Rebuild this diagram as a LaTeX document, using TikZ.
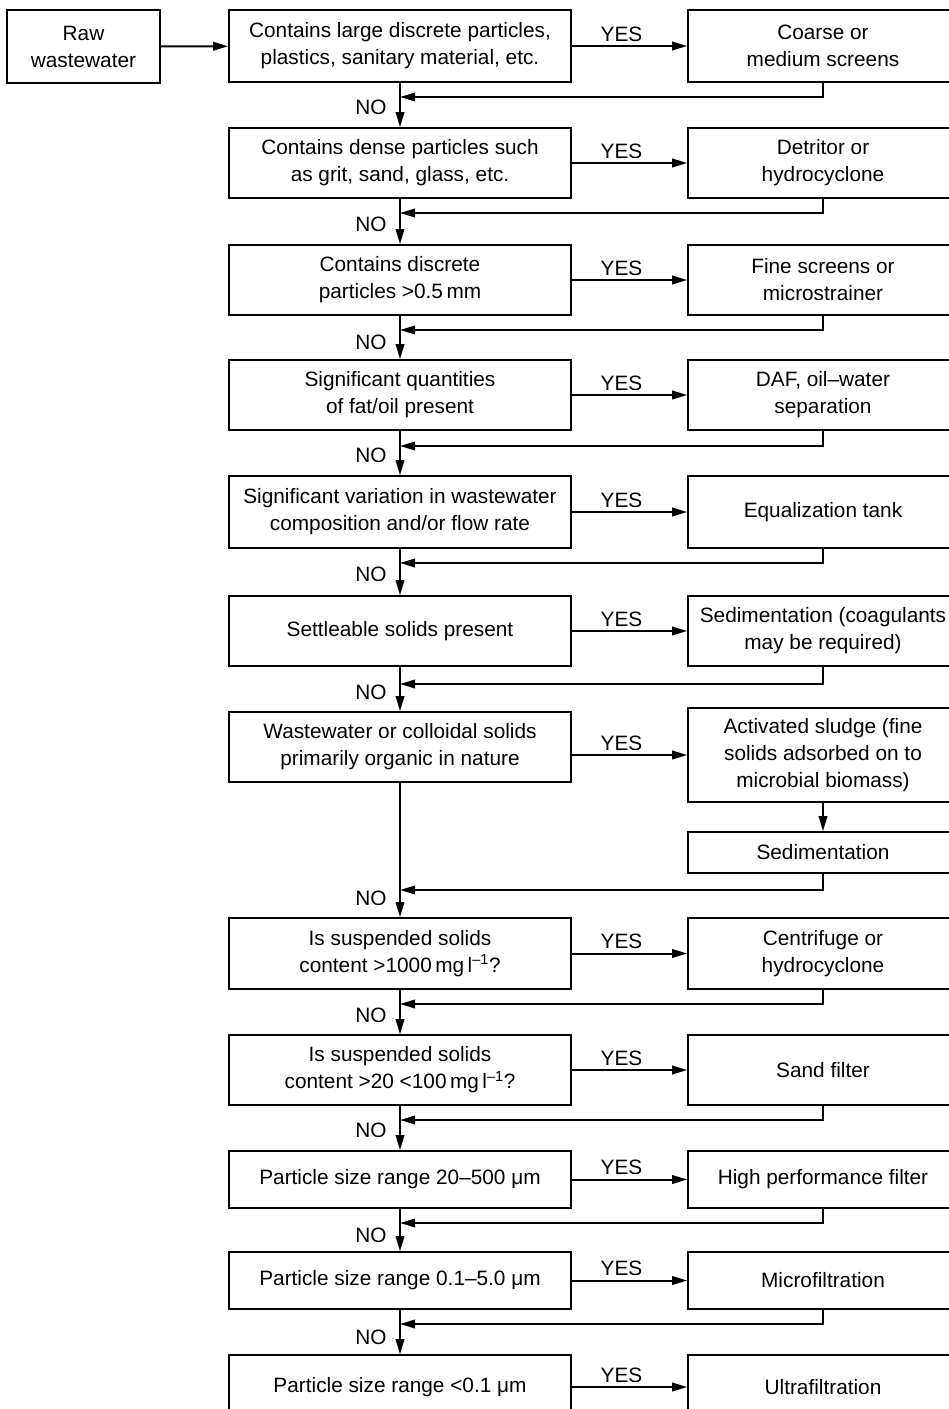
\documentclass[tikz,border=0pt]{standalone}
\usepackage{fontspec}
\setmainfont{Liberation Sans}
\usetikzlibrary{arrows.meta}

\begin{document}
\begin{tikzpicture}[
        x=1pt, y=-1pt,
        every node/.style={font=\fontsize{20.8}{27}\selectfont},
        test/.style={draw, line width=1.7pt, minimum width=342pt, align=center, inner sep=0pt},
        unit/.style={draw, line width=1.7pt, minimum width=270pt, align=center, inner sep=0pt},
        go/.style={-{Triangle[length=15pt,width=8.5pt]}, line width=2pt},
        back/.style={-{Triangle[length=15pt,width=8.5pt]}, line width=2pt}
    ]
        \useasboundingbox (0,0) rectangle (949,1409);
        \clip (0,0) rectangle (949,1409);

        % Start
        \node[draw, line width=1.7pt, minimum width=153pt, minimum height=73pt, align=center, inner sep=0pt] (raw) at (83.5,46.5) {Raw\\wastewater};

        % Tests
        \node[test, minimum height=72pt] (q1) at (400,46) {Contains large discrete particles,\\plastics, sanitary material, etc.};
        \node[test, minimum height=70pt] (q2) at (400,163) {Contains dense particles such\\as grit, sand, glass, etc.};
        \node[test, minimum height=70pt] (q3) at (400,280) {Contains discrete\\particles >0.5\,mm};
        \node[test, minimum height=70pt] (q4) at (400,395) {Significant quantities\\of fat/oil present};
        \node[test, minimum height=72pt] (q5) at (400,512) {Significant variation in wastewater\\composition and/or flow rate};
        \node[test, minimum height=70pt] (q6) at (400,631) {Settleable solids present};
        \node[test, minimum height=70pt] (q7) at (400,747) {Wastewater or colloidal solids\\primarily organic in nature};
        \node[test, minimum height=71pt] (q8) at (400,953.5) {Is suspended solids\\content >1000\,mg\,l\textsuperscript{–1}?};
        \node[test, minimum height=70pt] (q9) at (400,1070) {Is suspended solids\\content >20 <100\,mg\,l\textsuperscript{–1}?};
        \node[test, minimum height=57pt] (q10) at (400,1179.5) {Particle size range 20–500 μm};
        \node[test, minimum height=57pt] (q11) at (400,1280.5) {Particle size range 0.1–5.0 μm};
        \node[test, minimum height=64pt] (q12) at (400,1387) {Particle size range <0.1 μm};

        % Treatments
        \node[unit, minimum height=72pt] (a1) at (823,46) {Coarse or\\medium screens};
        \node[unit, minimum height=70pt] (a2) at (823,163) {Detritor or\\hydrocyclone};
        \node[unit, minimum height=70pt] (a3) at (823,280) {Fine screens or\\microstrainer};
        \node[unit, minimum height=70pt] (a4) at (823,395) {DAF, oil–water\\separation};
        \node[unit, minimum height=72pt] (a5) at (823,512) {Equalization tank};
        \node[unit, minimum height=70pt] (a6) at (823,631) {Sedimentation (coagulants\\may be required)};
        \node[unit, minimum height=94pt] (a7) at (823,755) {Activated sludge (fine\\solids adsorbed on to\\microbial biomass)};
        \node[unit, minimum height=41pt] (s7) at (823,852.5) {Sedimentation};
        \node[unit, minimum height=71pt] (a8) at (823,953.5) {Centrifuge or\\hydrocyclone};
        \node[unit, minimum height=70pt] (a9) at (823,1070) {Sand filter};
        \node[unit, minimum height=57pt] (a10) at (823,1179.5) {High performance filter};
        \node[unit, minimum height=57pt] (a11) at (823,1280.5) {Microfiltration};
        \node[unit, minimum height=64pt] (a12) at (823,1387) {Ultrafiltration};

        % Join points on the NO line
        \coordinate (r1) at (400,97);
        \coordinate (r2) at (400,213);
        \coordinate (r3) at (400,330);
        \coordinate (r4) at (400,446);
        \coordinate (r5) at (400,563);
        \coordinate (r6) at (400,684);
        \coordinate (r7) at (400,890);
        \coordinate (r8) at (400,1004);
        \coordinate (r9) at (400,1120);
        \coordinate (r10) at (400,1223);
        \coordinate (r11) at (400,1324);

        % Into the first test
        \draw[go] (raw) -- (q1);

        % YES branches
        \draw[go] (q1) -- node[above, xshift=-8pt] (y1) {YES} (a1);
        \draw[go] (q2) -- node[above, xshift=-8pt] (y2) {YES} (a2);
        \draw[go] (q3) -- node[above, xshift=-8pt] (y3) {YES} (a3);
        \draw[go] (q4) -- node[above, xshift=-8pt] (y4) {YES} (a4);
        \draw[go] (q5) -- node[above, xshift=-8pt] (y5) {YES} (a5);
        \draw[go] (q6) -- node[above, xshift=-8pt] (y6) {YES} (a6);
        \draw[go] (q7.east |- a7.west) -- node[above, xshift=-8pt] (y7) {YES} (a7.west);
        \draw[go] (a7) -- (s7);
        \draw[go] (q8) -- node[above, xshift=-8pt] (y8) {YES} (a8);
        \draw[go] (q9) -- node[above, xshift=-8pt] (y9) {YES} (a9);
        \draw[go] (q10) -- node[above, xshift=-8pt] (y10) {YES} (a10);
        \draw[go] (q11) -- node[above, xshift=-8pt] (y11) {YES} (a11);
        \draw[go] (q12) -- node[above, xshift=-8pt] (y12) {YES} (a12);

        % NO path
        \draw[go] (q1) -- (q2);
        \draw[go] (q2) -- (q3);
        \draw[go] (q3) -- (q4);
        \draw[go] (q4) -- (q5);
        \draw[go] (q5) -- (q6);
        \draw[go] (q6) -- (q7);
        \draw[go] (q7) -- (q8);
        \draw[go] (q8) -- (q9);
        \draw[go] (q9) -- (q10);
        \draw[go] (q10) -- (q11);
        \draw[go] (q11) -- (q12);

        % NO labels
        \node (n1) at (371,107) {NO};
        \node (n2) at (371,224) {NO};
        \node (n3) at (371,342) {NO};
        \node (n4) at (371,455) {NO};
        \node (n5) at (371,574) {NO};
        \node (n6) at (371,692) {NO};
        \node (n7) at (371,898) {NO};
        \node (n8) at (371,1015) {NO};
        \node (n9) at (371,1130) {NO};
        \node (n10) at (371,1235) {NO};
        \node (n11) at (371,1337) {NO};

        % Back to the NO line
        \draw[back] (a1.south) |- (r1);
        \draw[back] (a2.south) |- (r2);
        \draw[back] (a3.south) |- (r3);
        \draw[back] (a4.south) |- (r4);
        \draw[back] (a5.south) |- (r5);
        \draw[back] (a6.south) |- (r6);
        \draw[back] (s7.south) |- (r7);
        \draw[back] (a8.south) |- (r8);
        \draw[back] (a9.south) |- (r9);
        \draw[back] (a10.south) |- (r10);
        \draw[back] (a11.south) |- (r11);
    \end{tikzpicture}
\end{document}
